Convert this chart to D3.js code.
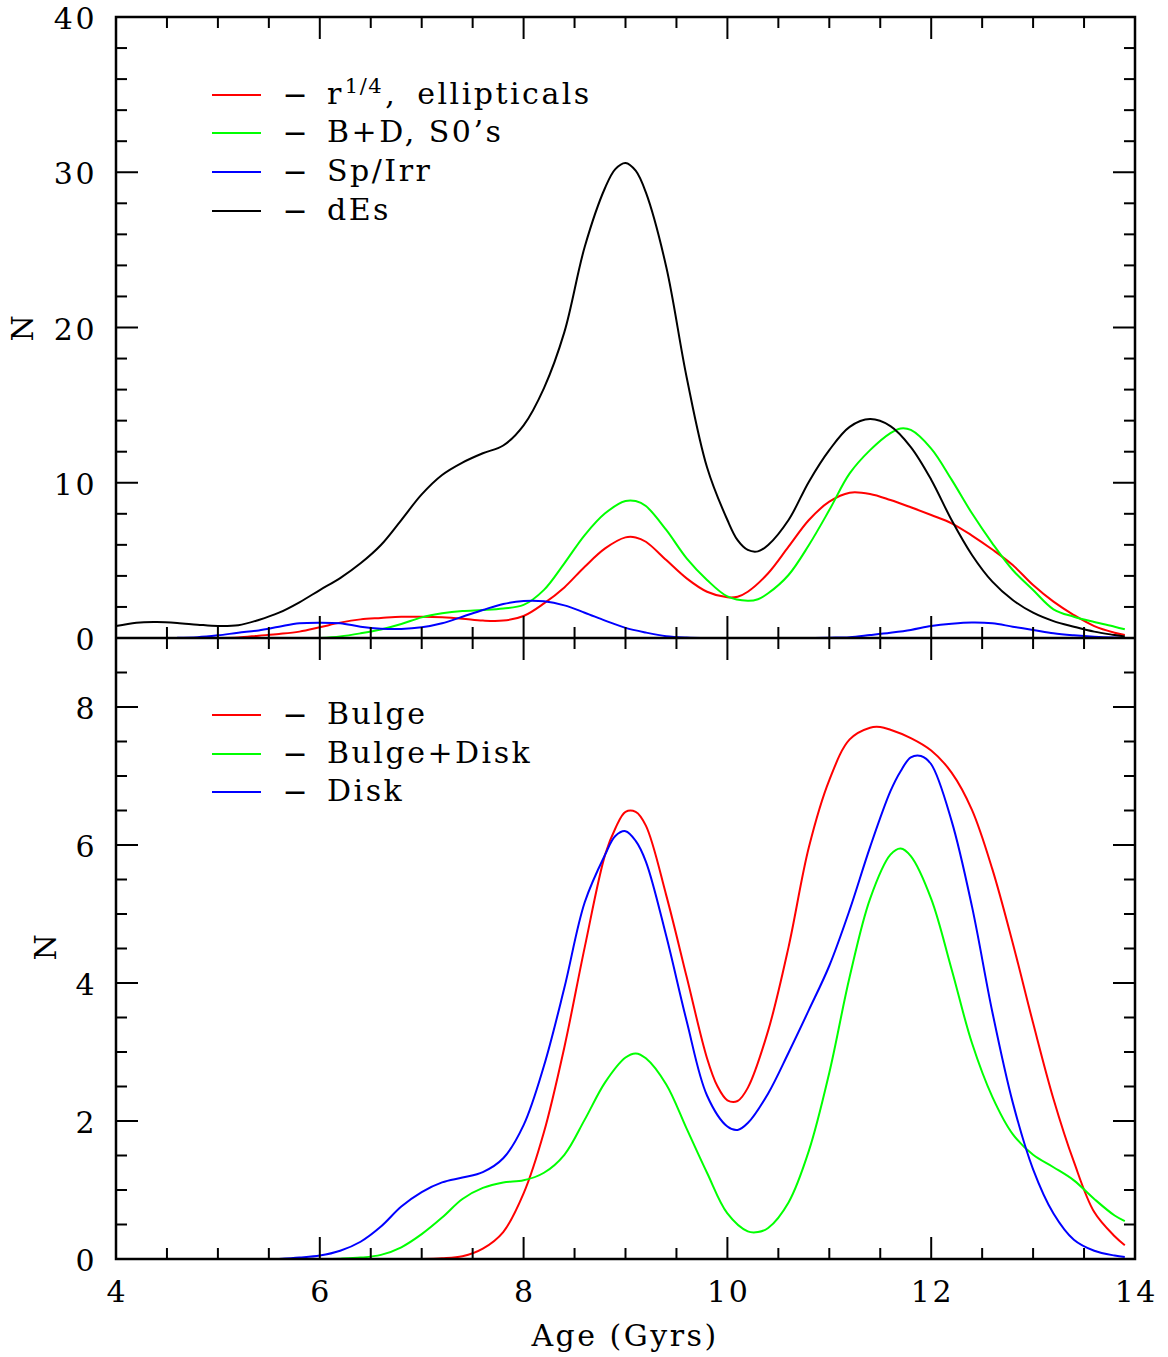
<!DOCTYPE html>
<html><head><meta charset="utf-8">
<script src="https://cdn.jsdelivr.net/npm/d3@7"></script>
<style>body{margin:0;background:#fff}svg text{font-family:"DejaVu Serif",serif;fill:#000}</style>
</head><body>
<svg id="c" width="1168" height="1357"></svg>
<script>
// ---------- DATA ----------
const xTickLabels = [4, 6, 8, 10, 12, 14];
const topYTickLabels = [0, 10, 20, 30, 40];
const bottomYTickLabels = [0, 2, 4, 6, 8];
const xLabel = "Age (Gyrs)";
const yLabel = "N";

// top panel
const agesDEs = [4.0,4.2,4.4,4.6,4.8,5.0,5.2,5.4,5.6,5.8,6.0,6.2,6.4,6.6,6.8,7.0,7.2,7.4,7.6,7.8,8.0,8.2,8.4,8.6,8.8,8.9,9.0,9.1,9.2,9.4,9.6,9.8,10.0,10.1,10.2,10.3,10.4,10.6,10.8,11.0,11.2,11.4,11.6,11.8,12.0,12.2,12.4,12.6,12.8,13.0,13.2,13.4,13.6,13.8,13.9];
const valsDEs = [0.77,0.99,1.03,0.97,0.86,0.77,0.82,1.16,1.63,2.3,3.09,3.86,4.81,5.99,7.6,9.25,10.5,11.3,11.9,12.4,13.7,16.1,19.7,25.2,29.0,30.2,30.6,30.1,28.7,23.9,16.8,11.0,7.6,6.3,5.67,5.58,5.99,7.6,10.07,12.1,13.6,14.1,13.65,12.3,10.2,7.6,5.35,3.63,2.45,1.63,1.09,0.73,0.41,0.19,0.09];

const agesEll = [5.0,5.2,5.4,5.6,5.8,6.0,6.2,6.4,6.6,6.8,7.0,7.2,7.4,7.6,7.8,8.0,8.2,8.4,8.6,8.8,9.0,9.1,9.2,9.4,9.6,9.8,10.0,10.1,10.2,10.4,10.6,10.8,11.0,11.2,11.4,11.6,11.8,12.0,12.2,12.4,12.6,12.8,13.0,13.2,13.4,13.6,13.8,13.9];
const valsEll = [0,0.04,0.15,0.26,0.41,0.69,0.99,1.2,1.29,1.37,1.37,1.33,1.24,1.12,1.12,1.42,2.23,3.26,4.59,5.77,6.48,6.48,6.2,5.02,3.84,2.98,2.62,2.66,2.98,4.17,5.88,7.6,8.78,9.36,9.28,8.89,8.42,7.92,7.39,6.6,5.7,4.7,3.41,2.34,1.48,0.77,0.34,0.19];

const agesS0 = [6.0,6.2,6.4,6.6,6.8,7.0,7.2,7.4,7.6,7.8,8.0,8.2,8.4,8.6,8.8,9.0,9.1,9.2,9.4,9.6,9.8,10.0,10.2,10.3,10.4,10.6,10.8,11.0,11.2,11.4,11.6,11.7,11.8,12.0,12.2,12.4,12.6,12.8,13.0,13.2,13.4,13.6,13.8,13.9];
const valsS0 = [0,0.1,0.3,0.55,0.9,1.33,1.59,1.74,1.8,1.9,2.13,3.1,4.81,6.63,8.03,8.82,8.82,8.5,6.96,5.13,3.74,2.68,2.4,2.5,2.88,4.06,5.99,8.24,10.6,12.1,13.2,13.5,13.4,12.2,10.2,8.03,6.1,4.38,3.09,1.85,1.37,1.03,0.73,0.56];

const agesSp = [4.6,4.8,5.0,5.2,5.4,5.6,5.8,6.0,6.2,6.4,6.6,6.8,7.0,7.2,7.4,7.6,7.8,8.0,8.2,8.4,8.6,8.8,9.0,9.2,9.4,9.6,9.8,10.0,10.2,10.4,10.6,10.8,11.0,11.2,11.4,11.6,11.8,12.0,12.2,12.4,12.6,12.8,13.0,13.2,13.4,13.6,13.8,13.9];
const valsSp = [0.02,0.05,0.17,0.34,0.49,0.73,0.95,0.99,0.95,0.73,0.6,0.58,0.69,0.95,1.37,1.8,2.19,2.38,2.36,2.1,1.63,1.12,0.65,0.35,0.12,0.03,0,0,0,0,0,0,0.02,0.05,0.19,0.34,0.52,0.77,0.92,1.0,0.95,0.73,0.52,0.3,0.17,0.08,0.03,0.02];

// bottom panel
const agesBulge = [7.0,7.2,7.4,7.6,7.8,8.0,8.2,8.4,8.6,8.8,8.9,9.0,9.1,9.2,9.4,9.6,9.8,9.9,10.0,10.1,10.2,10.4,10.6,10.8,11.0,11.2,11.4,11.5,11.6,11.8,12.0,12.2,12.4,12.6,12.8,13.0,13.2,13.4,13.6,13.8,13.9];
const valsBulge = [0,0.01,0.04,0.15,0.39,0.95,1.84,3.07,4.52,5.86,6.24,6.48,6.48,6.28,5.27,4.09,2.91,2.51,2.3,2.29,2.48,3.31,4.52,5.97,6.94,7.53,7.7,7.71,7.67,7.55,7.37,7.05,6.51,5.65,4.58,3.42,2.32,1.41,0.68,0.33,0.2];

const agesBD = [6.0,6.2,6.4,6.6,6.8,7.0,7.2,7.4,7.6,7.8,8.0,8.2,8.4,8.6,8.8,9.0,9.1,9.2,9.4,9.6,9.8,10.0,10.2,10.3,10.4,10.6,10.8,11.0,11.2,11.4,11.6,11.7,11.8,12.0,12.2,12.4,12.6,12.8,13.0,13.2,13.4,13.6,13.8,13.9];
const valsBD = [0,0.005,0.02,0.06,0.17,0.36,0.6,0.87,1.03,1.11,1.14,1.25,1.51,2.02,2.56,2.92,2.98,2.91,2.53,1.89,1.25,0.66,0.4,0.39,0.45,0.82,1.57,2.7,4.09,5.22,5.86,5.95,5.84,5.22,4.2,3.13,2.35,1.81,1.51,1.33,1.14,0.87,0.63,0.55];

const agesDisk = [5.6,5.8,6.0,6.2,6.4,6.6,6.8,7.0,7.2,7.4,7.6,7.8,8.0,8.2,8.4,8.6,8.8,8.9,9.0,9.1,9.2,9.4,9.6,9.8,10.0,10.1,10.2,10.4,10.6,10.8,11.0,11.2,11.4,11.6,11.7,11.8,11.9,12.0,12.2,12.4,12.6,12.8,13.0,13.2,13.4,13.6,13.8,13.9];
const valsDisk = [0,0.02,0.05,0.12,0.25,0.47,0.76,0.97,1.11,1.18,1.26,1.46,1.94,2.8,3.93,5.17,5.86,6.13,6.2,6.06,5.76,4.68,3.45,2.37,1.92,1.87,1.97,2.4,2.99,3.61,4.25,5.06,5.97,6.78,7.07,7.27,7.29,7.17,6.35,5.11,3.58,2.27,1.3,0.66,0.28,0.12,0.05,0.03];

const topSeries = [
  {name: "ellipticals", ages: agesEll, vals: valsEll, color: "#ff0000"},
  {name: "S0", ages: agesS0, vals: valsS0, color: "#00ff00"},
  {name: "Sp", ages: agesSp, vals: valsSp, color: "#0000ff"},
  {name: "dEs", ages: agesDEs, vals: valsDEs, color: "#000000"}
];
const bottomSeries = [
  {name: "Bulge", ages: agesBulge, vals: valsBulge, color: "#ff0000"},
  {name: "Bulge+Disk", ages: agesBD, vals: valsBD, color: "#00ff00"},
  {name: "Disk", ages: agesDisk, vals: valsDisk, color: "#0000ff"}
];
const bottomLegendLabels = ["Bulge", "Bulge+Disk", "Disk"];
const bottomLegendColors = ["#ff0000", "#00ff00", "#0000ff"];
const topLegendColors = ["#ff0000", "#00ff00", "#0000ff", "#000000"];

// ---------- LAYOUT ----------
const L = 116, R = 1135, T = 17, MID = 638, B = 1259;
const svg = d3.select("#c");
const x = d3.scaleLinear().domain([4, 14]).range([L, R]);
const yTop = d3.scaleLinear().domain([0, 40]).range([MID, T]);
const yBot = d3.scaleLinear().domain([0, 9]).range([B, MID]);

const line = (ys) => d3.line().x((d) => x(d[0])).y((d) => ys(d[1])).curve(d3.curveCatmullRom.alpha(0.5));

function drawSeries(series, ys) {
  const g = svg.append("g");
  series.forEach(s => {
    const pts = s.ages.map((a, i) => [a, s.vals[i]]);
    g.append("path").attr("d", line(ys)(pts)).attr("fill", "none")
      .attr("stroke", s.color).attr("stroke-width", 2).attr("stroke-linejoin", "round");
  });
}
drawSeries(topSeries, yTop);
drawSeries(bottomSeries, yBot);

// ---------- TICKS ----------
const tk = svg.append("g").attr("stroke", "#000").attr("stroke-width", 2);
const xMinor = d3.range(4.5, 14, 0.5);
function isMajorX(v) { return Math.abs(v / 2 - Math.round(v / 2)) < 1e-6; }
function hTicks(yPos, dir) {
  xMinor.forEach(v => {
    const len = isMajorX(v) ? 22 : 11;
    tk.append("line").attr("x1", x(v)).attr("x2", x(v)).attr("y1", yPos).attr("y2", yPos + dir * len);
  });
}
hTicks(T, 1);
hTicks(MID, -1);
hTicks(MID, 1);
hTicks(B, -1);

function vTicks(ys, lo, hi, step, majorStep) {
  d3.range(lo, hi + 1e-6, step).forEach(v => {
    const r = v / majorStep;
    const len = Math.abs(r - Math.round(r)) < 1e-6 ? 22 : 11;
    tk.append("line").attr("x1", L).attr("x2", L + len).attr("y1", ys(v)).attr("y2", ys(v));
    tk.append("line").attr("x1", R).attr("x2", R - len).attr("y1", ys(v)).attr("y2", ys(v));
  });
}
vTicks(yTop, 2, 38, 2, 10);
vTicks(yBot, 0.5, 8.5, 0.5, 2);

svg.append("rect").attr("x", L).attr("y", T).attr("width", R - L).attr("height", B - T)
  .attr("fill", "none").attr("stroke", "#000").attr("stroke-width", 2.5);
svg.append("line").attr("x1", L).attr("x2", R).attr("y1", MID).attr("y2", MID)
  .attr("stroke", "#000").attr("stroke-width", 2.5);

// ---------- LABELS ----------
const FS = 30, LS = 2.5;
const lab = svg.append("g").attr("font-size", FS).attr("letter-spacing", LS);
topYTickLabels.forEach(v => {
  lab.append("text").attr("x", 97).attr("y", yTop(v) + 12).attr("text-anchor", "end").text(v);
});
bottomYTickLabels.forEach(v => {
  lab.append("text").attr("x", 97).attr("y", yBot(v) + 12).attr("text-anchor", "end").text(v);
});
xTickLabels.forEach(v => {
  lab.append("text").attr("x", x(v) + LS / 2).attr("y", 1302).attr("text-anchor", "middle").text(v);
});
lab.append("text").attr("x", 625).attr("y", 1346).attr("text-anchor", "middle").text(xLabel);
lab.append("text").attr("transform", "translate(33,327) rotate(-90)").attr("text-anchor", "middle").text(yLabel);
lab.append("text").attr("transform", "translate(56,946) rotate(-90)").attr("text-anchor", "middle").text(yLabel);

// ---------- LEGENDS ----------
const topLegendY = [95, 133, 172, 211];
topLegendColors.forEach((c, i) => {
  svg.append("line").attr("x1", 212).attr("x2", 261).attr("y1", topLegendY[i]).attr("y2", topLegendY[i])
    .attr("stroke", c).attr("stroke-width", 2);
  lab.append("text").attr("x", 295).attr("y", topLegendY[i] + 10).attr("text-anchor", "middle")
    .attr("letter-spacing", 0).text("−");
});
const t0 = lab.append("text").attr("x", 327).attr("y", topLegendY[0] + 9);
t0.append("tspan").text("r");
t0.append("tspan").attr("font-size", 21).attr("dy", -11).attr("dx", 1).attr("letter-spacing", 1.5).text("1/4");
t0.append("tspan").attr("dy", 11).attr("dx", 2).text(",");
t0.append("tspan").attr("dx", 20).text("ellipticals");
lab.append("text").attr("x", 327).attr("y", topLegendY[1] + 9).text("B+D, S0’s");
lab.append("text").attr("x", 327).attr("y", topLegendY[2] + 9).text("Sp/Irr");
lab.append("text").attr("x", 327).attr("y", topLegendY[3] + 9).text("dEs");

const botLegendY = [715, 754, 792];
bottomLegendLabels.forEach((name, i) => {
  svg.append("line").attr("x1", 212).attr("x2", 261).attr("y1", botLegendY[i]).attr("y2", botLegendY[i])
    .attr("stroke", bottomLegendColors[i]).attr("stroke-width", 2);
  lab.append("text").attr("x", 295).attr("y", botLegendY[i] + 10).attr("text-anchor", "middle")
    .attr("letter-spacing", 0).text("−");
  lab.append("text").attr("x", 327).attr("y", botLegendY[i] + 9).text(name);
});
</script>
</body></html>
